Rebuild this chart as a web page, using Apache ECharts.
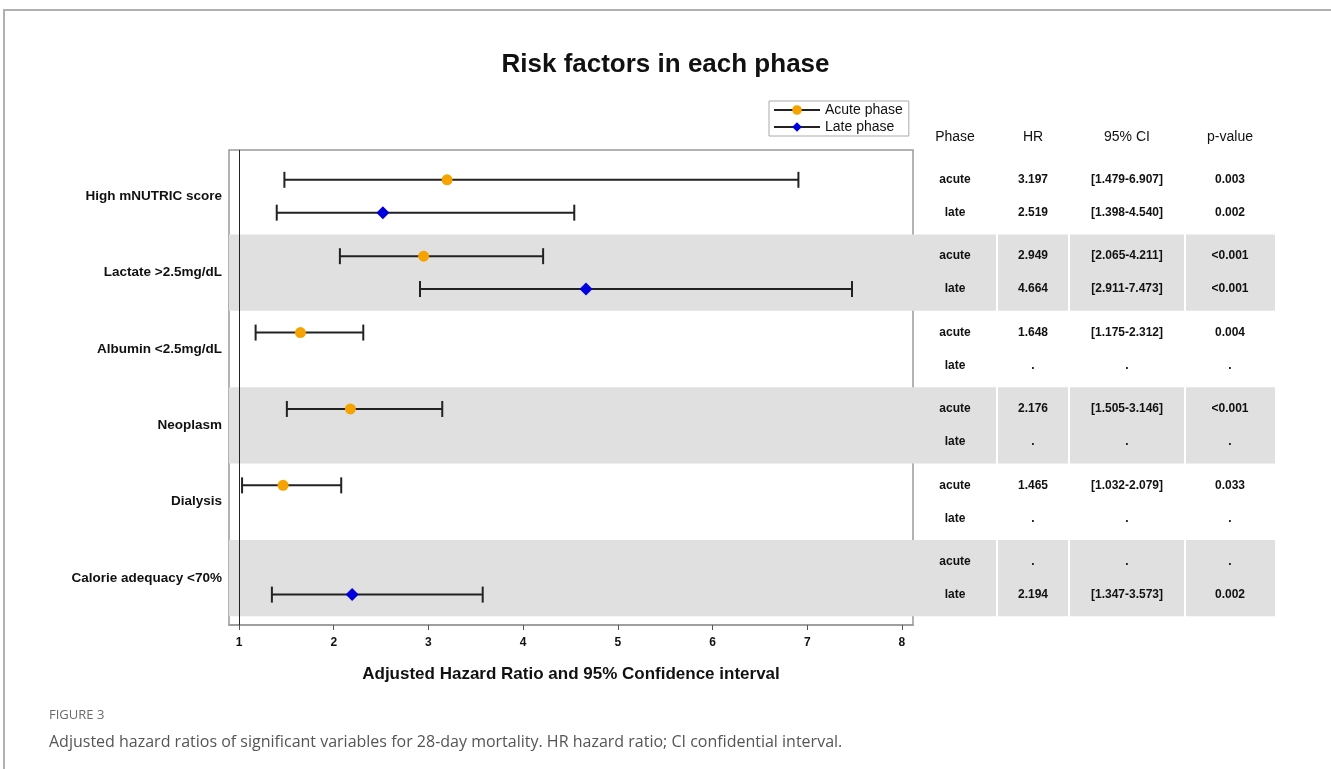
<!DOCTYPE html>
<html>
<head>
<meta charset="utf-8">
<script src="https://cdn.jsdelivr.net/npm/echarts@6/dist/echarts.min.js"></script>
<style>
html,body{margin:0;padding:0;background:#fff;}
#chart{width:1331px;height:769px;}
</style>
</head>
<body>
<div id="chart"></div>
<script>
// ---------------- data ----------------
const categories = ['High mNUTRIC score', 'Lactate >2.5mg/dL', 'Albumin <2.5mg/dL', 'Neoplasm', 'Dialysis', 'Calorie adequacy <70%'];
const acuteHR = [3.197, 2.949, 1.648, 2.176, 1.465, null];
const acuteLo = [1.479, 2.065, 1.175, 1.505, 1.032, null];
const acuteHi = [6.907, 4.211, 2.312, 3.146, 2.079, null];
const acuteP  = ['0.003', '<0.001', '0.004', '<0.001', '0.033', '.'];
const lateHR  = [2.519, 4.664, null, null, null, 2.194];
const lateLo  = [1.398, 2.911, null, null, null, 1.347];
const lateHi  = [4.540, 7.473, null, null, null, 3.573];
const lateP   = ['0.002', '<0.001', '.', '.', '.', '0.002'];
const phaseNames = ['acute', 'late'];
const seriesNames = ['Acute phase', 'Late phase'];
const tableHeaders = ['Phase', 'HR', '95% CI', 'p-value'];
const xTicks = [1, 2, 3, 4, 5, 6, 7, 8];
const xTitle = 'Adjusted Hazard Ratio and 95% Confidence interval';
const chartTitle = 'Risk factors in each phase';
const figLabel = 'FIGURE 3';
const figCaption = 'Adjusted hazard ratios of significant variables for 28-day mortality. HR hazard ratio; CI confidential interval.';

// ---------------- layout (not data) ----------------
const ROW_OFF = [0.285, 0.715];          // row offsets inside a group
const COL_EDGES = [0, 84, 156, 272, 362]; // table column edges (px units of table axis)
const HEADER_Y = -0.27;
const FONT = "'Liberation Sans', Arial, Helvetica, sans-serif";
const BAND = '#e0e0e0';

const rowY = (g, p) => g + ROW_OFF[p];
const fmt = v => (v == null ? '.' : v.toFixed(3));

// error-bar rows
const bars = [];
categories.forEach((c, g) => {
  if (acuteHR[g] != null) bars.push([acuteLo[g], acuteHi[g], rowY(g, 0)]);
  if (lateHR[g] != null) bars.push([lateLo[g], lateHi[g], rowY(g, 1)]);
});
const acutePts = [], latePts = [];
categories.forEach((c, g) => {
  if (acuteHR[g] != null) acutePts.push([acuteHR[g], rowY(g, 0)]);
  if (lateHR[g] != null) latePts.push([lateHR[g], rowY(g, 1)]);
});

// table cells
const colCenter = i => (COL_EDGES[i] + COL_EDGES[i + 1]) / 2;
const cells = [];
tableHeaders.forEach((h, i) => cells.push({ value: [colCenter(i), HEADER_Y], text: h, head: true }));
categories.forEach((c, g) => {
  const rows = [
    [phaseNames[0], fmt(acuteHR[g]), acuteHR[g] == null ? '.' : '[' + fmt(acuteLo[g]) + '-' + fmt(acuteHi[g]) + ']', acuteP[g]],
    [phaseNames[1], fmt(lateHR[g]), lateHR[g] == null ? '.' : '[' + fmt(lateLo[g]) + '-' + fmt(lateHi[g]) + ']', lateP[g]]
  ];
  rows.forEach((r, p) => r.forEach((t, i) => cells.push({ value: [colCenter(i), rowY(g, p)], text: t, head: false })));
});

const bandAreas = [];
categories.forEach((c, g) => { if (g % 2 === 1) bandAreas.push([{ yAxis: g }, { yAxis: g + 1 }]); });

const yAxisBase = {
  type: 'value', inverse: true, min: -0.105, max: 6.113,
  splitLine: { show: false }, axisLine: { show: false }, axisTick: { show: false }
};

const chart = echarts.init(document.getElementById('chart'), null, { renderer: 'canvas' });
chart.setOption({
  animation: false,
  backgroundColor: '#fff',
  title: [
    { text: chartTitle, left: 'center', top: 47,
      textStyle: { fontFamily: FONT, fontSize: 26, fontWeight: 'bold', color: '#111' } },
    { text: figLabel, left: 44, top: 704,
      textStyle: { fontFamily: "'Open Sans', 'Noto Sans', sans-serif", fontSize: 13, fontWeight: 'normal', color: '#6a6a6a' } },
    { text: figCaption, left: 44, top: 729,
      textStyle: { fontFamily: "'Open Sans', 'Noto Sans', sans-serif", fontSize: 16, fontWeight: 'normal', color: '#555' } }
  ],
  legend: {
    data: seriesNames,
    orient: 'vertical', left: 769, top: 101,
    borderColor: '#aaa', borderWidth: 1, borderRadius: 0,
    padding: [2, 6, 2, 4], itemGap: 3, itemWidth: 46, itemHeight: 12,
    textStyle: { fontFamily: FONT, fontSize: 14, color: '#111' },
    lineStyle: { color: '#222', width: 2, opacity: 1 },
    selectedMode: false
  },
  graphic: [
    { type: 'rect', shape: { x: 4, y: 10, width: 1400, height: 800 }, style: { fill: 'none', stroke: '#b0b0b0', lineWidth: 2 }, z: -10 }
  ],
  grid: [
    { left: 229, top: 150, width: 684, height: 475, show: true, borderColor: '#999', borderWidth: 1.5, backgroundColor: 'transparent' },
    { left: 913, top: 150, width: 362, height: 475, show: false }
  ],
  xAxis: [
    { type: 'value', gridIndex: 0, min: 0.894, max: 8.117, position: 'bottom',
      splitLine: { show: false },
      axisLine: { show: true, onZero: false, lineStyle: { color: '#999', width: 1.5 } },
      axisTick: { show: true, customValues: xTicks, length: 5, lineStyle: { color: '#555' } },
      axisLabel: { customValues: xTicks, margin: 12, fontFamily: FONT, fontSize: 12, fontWeight: 'bold', color: '#111' },
      name: xTitle, nameLocation: 'middle', nameGap: 41,
      nameTextStyle: { fontFamily: FONT, fontSize: 17, fontWeight: 'bold', color: '#111' } },
    { type: 'value', gridIndex: 1, min: COL_EDGES[0], max: COL_EDGES[COL_EDGES.length - 1], show: false }
  ],
  yAxis: [
    Object.assign({ gridIndex: 0,
      axisLabel: { customValues: categories.map((c, g) => g + 0.5), formatter: v => categories[Math.round(v - 0.5)] || '',
        margin: 7, fontFamily: FONT, fontSize: 13.5, fontWeight: 'bold', color: '#111' } }, yAxisBase),
    Object.assign({ gridIndex: 1, axisLabel: { show: false } }, yAxisBase)
  ],
  series: [
    {
      type: 'custom', name: 'ci', xAxisIndex: 0, yAxisIndex: 0,
      data: bars, encode: { x: [0, 1], y: 2 },
      renderItem: (params, api) => {
        const a = api.coord([api.value(0), api.value(2)]);
        const b = api.coord([api.value(1), api.value(2)]);
        const st = { stroke: '#222', lineWidth: 2 };
        return { type: 'group', children: [
          { type: 'line', shape: { x1: a[0], y1: a[1], x2: b[0], y2: b[1] }, style: st },
          { type: 'line', shape: { x1: a[0], y1: a[1] - 8, x2: a[0], y2: a[1] + 8 }, style: st },
          { type: 'line', shape: { x1: b[0], y1: b[1] - 8, x2: b[0], y2: b[1] + 8 }, style: st }
        ] };
      },
      markArea: { silent: true, itemStyle: { color: BAND }, data: bandAreas },
      markLine: { silent: true, symbol: 'none', label: { show: false },
        lineStyle: { color: '#222', width: 1, type: 'solid' }, data: [{ xAxis: xTicks[0] }] },
      z: 3
    },
    {
      type: 'line', name: seriesNames[0], xAxisIndex: 0, yAxisIndex: 0, data: acutePts,
      symbol: 'circle', symbolSize: 11, showSymbol: true,
      lineStyle: { opacity: 0 }, itemStyle: { color: '#f5a300' }, z: 5
    },
    {
      type: 'line', name: seriesNames[1], xAxisIndex: 0, yAxisIndex: 0, data: latePts,
      symbol: 'diamond', symbolSize: 13, showSymbol: true,
      lineStyle: { opacity: 0 }, itemStyle: { color: '#0000dd' }, z: 5
    },
    {
      type: 'custom', name: 'table', xAxisIndex: 1, yAxisIndex: 1,
      data: cells.map(c => c.value), encode: { x: 0, y: 1 },
      renderItem: (params, api) => {
        const c = cells[params.dataIndex];
        const p = api.coord([api.value(0), api.value(1)]);
        return { type: 'text', x: p[0], y: p[1], style: {
          text: c.text, align: 'center', verticalAlign: 'middle',
          font: (c.head ? 'normal 14px ' : 'bold 12px ') + FONT, fill: '#111' } };
      },
      markArea: { silent: true, itemStyle: { color: BAND }, data: bandAreas },
      markLine: { silent: true, symbol: 'none', label: { show: false },
        lineStyle: { color: '#fff', width: 2, type: 'solid' },
        data: COL_EDGES.slice(1, -1).map(x => ({ xAxis: x })) },
      z: 3
    }
  ]
});
</script>
</body>
</html>
